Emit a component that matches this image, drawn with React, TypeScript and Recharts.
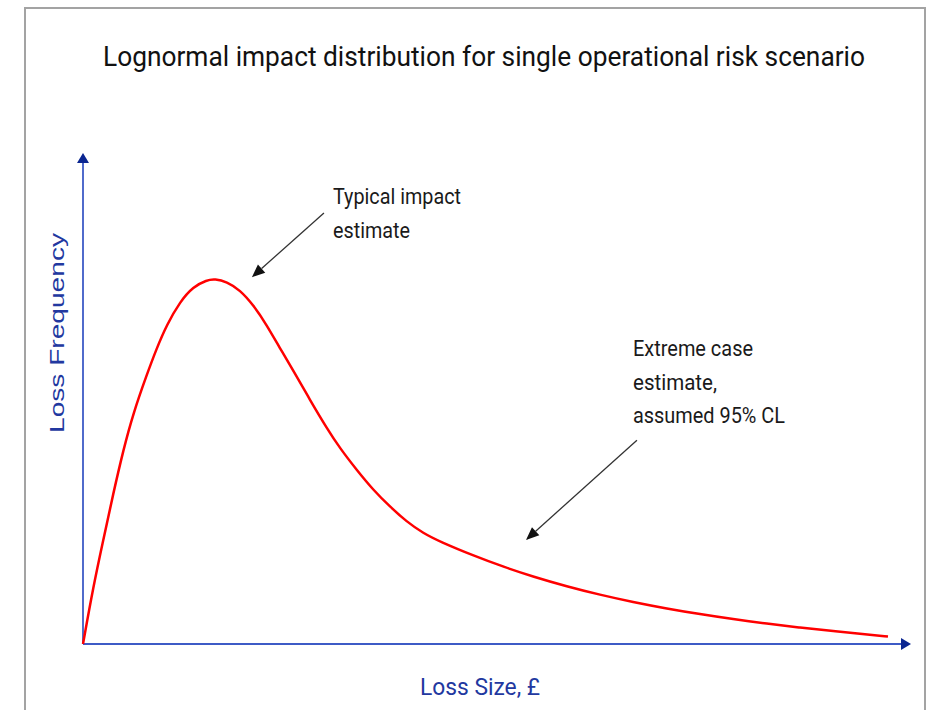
import { LineChart, Line, XAxis, YAxis, ReferenceLine } from "recharts";

// Loss size (0..100 along the x axis) and relative loss frequency (0..100 up the y axis)
const LOSS_SIZE = [0, 1.24, 2.45, 3.66, 4.87, 6.07, 7.69, 8.90, 10.11, 11.71, 13.32, 14.94, 15.94, 17.35, 18.96, 20.57, 22.19, 23.79, 25.36, 27.42, 29.47, 31.04, 33.06, 35.06, 37.08, 39.09, 41.10, 43.12, 47.10, 50.97, 54.35, 58.45, 62.44, 66.43, 70.53, 74.52, 78.50, 82.61, 86.59, 90.58, 94.69, 97.22];
const LOSS_FREQ = [0, 11.67, 21.18, 30.69, 39.51, 46.99, 54.79, 60.22, 64.97, 69.71, 72.77, 74.13, 74.34, 73.79, 72.10, 69.04, 64.97, 60.22, 55.80, 49.69, 43.89, 39.86, 35.44, 31.36, 27.96, 24.91, 22.55, 20.84, 18.04, 15.60, 13.73, 11.71, 10.02, 8.53, 7.21, 6.07, 5.05, 4.15, 3.34, 2.63, 1.98, 1.51];

// annotation arrows: [tail, head] in data units
const TYPICAL_ARROW = [{ x: 29.1, y: 87.8 }, { x: 20.4, y: 74.7 }];
const EXTREME_ARROW = [{ x: 66.9, y: 41.5 }, { x: 53.5, y: 21.2 }];
const X_AXIS_SEG = [{ x: 0, y: 0 }, { x: 100, y: 0 }];
const Y_AXIS_SEG = [{ x: 0, y: 0 }, { x: 0, y: 100 }];

const TITLE = "Lognormal impact distribution for single operational risk scenario";
const TYPICAL_TEXT = ["Typical impact", "estimate"];
const EXTREME_TEXT = ["Extreme case", "estimate,", "assumed 95% CL"];

const data = LOSS_SIZE.map((x, i) => ({ size: x, freq: LOSS_FREQ[i] }));

const NARROW = "'Liberation Sans Narrow', 'Roboto', 'Noto Sans', sans-serif";
const AXIS_BLUE = "#3e5bc6";
const AXIS_HEAD = "#0b2691";
const LABEL_BLUE = "#2238a0";

// rendered widths of the annotation lines in the reference
const TYPICAL_W = [128, 77];
const EXTREME_W = [120, 84, 152];

function arrowShape(lineColor: string, headColor: string, width: number, headLen: number, headHalf: number) {
  return (p: any) => {
    const { x1, y1, x2, y2 } = p;
    const dx = x2 - x1, dy = y2 - y1;
    const len = Math.sqrt(dx * dx + dy * dy) || 1;
    const ux = dx / len, uy = dy / len;
    const bx = x2 - ux * headLen, by = y2 - uy * headLen;
    const pts = `${x2},${y2} ${bx - uy * headHalf},${by + ux * headHalf} ${bx + uy * headHalf},${by - ux * headHalf}`;
    return (
      <g>
        <line x1={x1} y1={y1} x2={bx} y2={by} stroke={lineColor} strokeWidth={width} />
        <polygon points={pts} fill={headColor} />
      </g>
    );
  };
}

export default function App() {
  return (
    <div style={{ position: "fixed", left: 0, top: 0, width: 941, height: 710, overflow: "hidden", background: "#fff" }}>
      <div style={{ position: "absolute", left: 24, top: 7, width: 902, height: 720, border: "2px solid #a3a3a3", boxSizing: "border-box" }} />
      <div style={{ position: "absolute", left: 0, top: 0 }}>
        <LineChart width={941} height={710} data={data} margin={{ top: 153, right: 30, bottom: 66, left: 83 }}>
          <XAxis type="number" dataKey="size" domain={[0, 100]} hide />
          <YAxis type="number" domain={[0, 100]} hide />
          <ReferenceLine segment={X_AXIS_SEG} shape={arrowShape(AXIS_BLUE, AXIS_HEAD, 1.8, 10, 6)} />
          <ReferenceLine segment={Y_AXIS_SEG} shape={arrowShape(AXIS_BLUE, AXIS_HEAD, 1.8, 10, 6)} />
          <Line type="basis" dataKey="freq" stroke="#ff0000" strokeWidth={2.5} dot={false} isAnimationActive={false} />
          <ReferenceLine segment={TYPICAL_ARROW} shape={arrowShape("#333", "#111", 1.3, 13, 5.5)} />
          <ReferenceLine segment={EXTREME_ARROW} shape={arrowShape("#333", "#111", 1.3, 13, 5.5)} />
        </LineChart>
      </div>
      <svg width={941} height={710} style={{ position: "absolute", left: 0, top: 0, pointerEvents: "none" }}>
        <text x={103} y={66} fontFamily={NARROW} fontSize={28} fill="#111" textLength={762} lengthAdjust="spacingAndGlyphs">{TITLE}</text>
        <text x={0} y={0} transform="translate(64,433) rotate(-90)" fontFamily="'Liberation Sans', Arial, sans-serif" fontSize={21} fill={LABEL_BLUE} textLength={200} lengthAdjust="spacingAndGlyphs">Loss Frequency</text>
        <text x={420} y={695} fontFamily={NARROW} fontSize={23} fill={LABEL_BLUE} textLength={120} lengthAdjust="spacingAndGlyphs">Loss Size, £</text>
        {TYPICAL_TEXT.map((t, i) => (
          <text key={t} x={333} y={204 + i * 34} fontFamily={NARROW} fontSize={22} fill="#1a1a1a" textLength={TYPICAL_W[i]} lengthAdjust="spacingAndGlyphs">{t}</text>
        ))}
        {EXTREME_TEXT.map((t, i) => (
          <text key={t} x={633} y={356 + i * 33.5} fontFamily={NARROW} fontSize={22} fill="#1a1a1a" textLength={EXTREME_W[i]} lengthAdjust="spacingAndGlyphs">{t}</text>
        ))}
      </svg>
    </div>
  );
}
